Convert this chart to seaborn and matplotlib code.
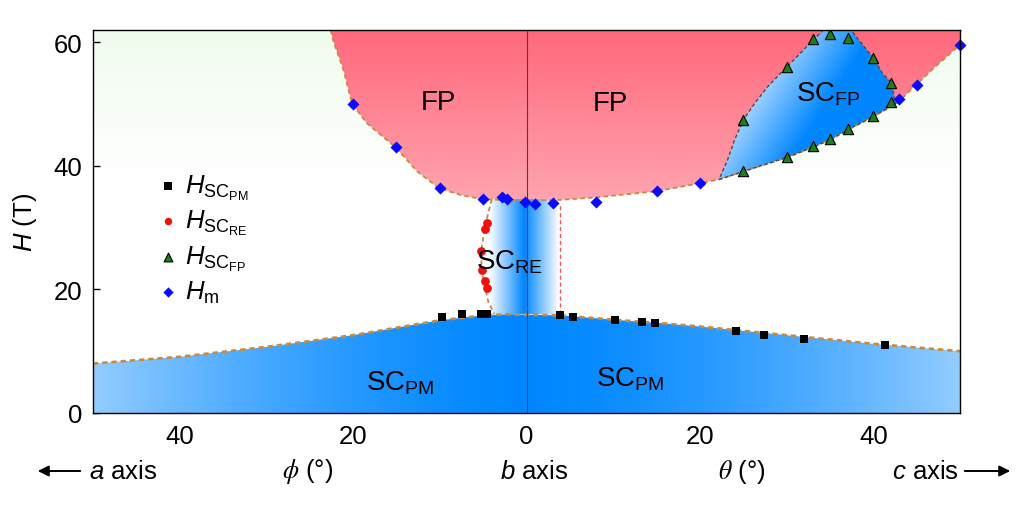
import numpy as np
import matplotlib
matplotlib.use("Agg")
import matplotlib.pyplot as plt
from matplotlib.patches import Polygon
from matplotlib.colors import to_rgb
import seaborn as sns

# angle axis: negative side = phi (b -> a axis), positive side = theta (b -> c axis)
pm_angle = [-9.7, -7.4, -5.2, -4.5, 3.9, 5.4, 10.2, 13.3, 14.8, 24.2, 27.4, 32.0, 41.4]
pm_field = [15.5, 16.0, 16.0, 16.0, 15.9, 15.6, 15.1, 14.8, 14.6, 13.3, 12.6, 12.0, 11.0]

re_angle = [-4.55, -4.75, -5.2, -5.1, -4.8, -4.55]
re_field = [30.7, 29.8, 26.3, 23.1, 21.3, 20.2]

fp_angle = [25.0, 30.0, 33.1, 35.0, 37.1, 40.0, 42.0, 42.0, 40.0, 37.1, 35.0, 33.1, 30.0, 25.0]
fp_field = [39.1, 41.5, 43.2, 44.4, 45.9, 48.1, 50.4, 53.4, 57.5, 60.7, 61.3, 60.5, 56.0, 47.4]

hm_angle = [-20.0, -15.0, -10.0, -5.0, -2.8, -2.2, -0.2, 1.0, 3.0, 8.0, 15.0, 20.0, 43.0, 45.0, 50.0]
hm_field = [50.0, 43.0, 36.4, 34.6, 35.0, 34.7, 34.2, 33.8, 34.0, 34.1, 35.9, 37.2, 50.8, 53.1, 59.6]

# phase boundaries
pm_line_x = [-50, -40, -30, -20, -10, -5, -2, 0, 4, 10, 15, 20, 30, 40, 50]
pm_line_y = [8.0, 9.1, 10.7, 12.6, 15.0, 15.8, 16.0, 15.9, 15.8, 15.1, 14.6, 14.0, 12.6, 11.2, 10.0]

fp_line_x = [-22.6, -22.3, -21.1, -20.1, -18.4, -15.1, -12.6, -10.1, -7.6, -5.1, -3.0, 0.0, 3.9,
             8.0, 15.0, 20.0, 22.2, 25.0, 30.1, 33.0, 35.1, 37.0, 40.0, 42.7, 45.0, 47.1, 50.0]
fp_line_y = [62.0, 60.3, 55.5, 50.0, 46.9, 43.0, 39.1, 36.4, 35.3, 34.6, 34.5, 34.4, 34.5,
             34.9, 35.9, 37.2, 37.8, 39.1, 41.4, 43.0, 44.3, 45.8, 48.0, 50.1, 53.2, 56.0, 59.6]

scfp_line_x = [22.2, 25.0, 30.1, 33.0, 35.1, 37.0, 40.0, 42.6, 42.5, 42.3, 42.0, 41.1, 40.0, 38.2,
               37.5, 36.8, 34.3, 34.0, 33.1, 31.7, 30.0, 27.8, 26.3, 25.0, 24.0, 23.2, 22.2]
scfp_line_y = [37.8, 39.1, 41.4, 43.0, 44.3, 45.8, 48.0, 50.1, 50.4, 52.0, 53.6, 54.9, 57.5, 60.6,
               61.9, 62.4, 62.4, 61.6, 60.5, 58.4, 56.0, 52.8, 50.1, 47.4, 44.2, 41.0, 37.8]

re_line_x = [-4.0, -4.4, -4.8, -5.2, -5.2, -4.8, -4.4, -3.7]
re_line_y = [34.6, 32.5, 30.0, 26.5, 23.0, 20.5, 18.0, 16.0]
re_right_x = 3.9

sns.set_style("ticks")
plt.rcParams["font.family"] = ["Liberation Sans", "DejaVu Sans"]
plt.rcParams["mathtext.fontset"] = "custom"
plt.rcParams["mathtext.rm"] = "Liberation Sans"
plt.rcParams["mathtext.it"] = "Liberation Sans:italic"
plt.rcParams["mathtext.bf"] = "Liberation Sans:bold"
for key in ["text.color", "axes.labelcolor", "xtick.color", "ytick.color", "axes.edgecolor"]:
    plt.rcParams[key] = "black"

fig = plt.figure(figsize=(10.16, 5.06), dpi=100)
ax = fig.add_axes([93 / 1016, 92 / 506, 867 / 1016, 383 / 506])

XLIM, YLIM = (-50, 50), (0, 62)
gx = np.linspace(*XLIM, 801)
gy = np.linspace(*YLIM, 497)
GX, GY = np.meshgrid(gx, gy)
WHITE = np.ones(3)
BLUE = np.array(to_rgb("#0087ff"))


def shade(f, c0, c1):
    f = np.clip(f, 0, 1)[..., None]
    return np.asarray(c0) * (1 - f) + np.asarray(c1) * f


def paint(rgb, verts, z):
    patch = Polygon(verts, closed=True, fc="none", ec="none", transform=ax.transData)
    ax.add_patch(patch)
    im = ax.imshow(rgb, extent=(*XLIM, *YLIM), origin="lower", aspect="auto",
                   zorder=z, interpolation="bilinear")
    im.set_clip_path(patch)


# background: faint green at the top
bg = shade((GY - 38) / 24, WHITE, to_rgb("#f0fcee"))
ax.imshow(bg, extent=(*XLIM, *YLIM), origin="lower", aspect="auto", zorder=0)

# SC_PM
f_pm = 1 - 0.58 * (np.abs(GX) / 50) ** 1.5
paint(shade(f_pm, WHITE, BLUE), list(zip(pm_line_x, pm_line_y)) + [(50, 0), (-50, 0)], 1)

# FP
fp_rgb = shade((GY - 34) / 28, to_rgb("#ffa5b0"), to_rgb("#ff687c"))
paint(fp_rgb, list(zip(fp_line_x, fp_line_y)) + [(50, 63), (-22.6, 63)], 1)

# SC_RE
f_re = 1 - np.abs(GX + 0.3) / 4.0
paint(shade(f_re, WHITE, BLUE),
      list(zip(re_line_x, re_line_y)) + [(re_right_x, 16.0), (re_right_x, 34.6)], 1)

# SC_FP
f_fp = 0.42 + 0.58 * (GX - 0.46 * GY - 3.5) / 8
paint(shade(f_fp, WHITE, BLUE), list(zip(scfp_line_x, scfp_line_y)), 2)

# boundaries
bcol = "#c98a40"
ax.plot(pm_line_x, pm_line_y, color=bcol, lw=1.9, dashes=(2, 1.5), zorder=3)
ax.plot(fp_line_x, fp_line_y, color=bcol, lw=1.3, dashes=(2.5, 1.8), zorder=3)
ax.plot(re_line_x, re_line_y, color=bcol, lw=1.3, dashes=(2.5, 1.8), zorder=3)
ax.plot(scfp_line_x, scfp_line_y, color="#4a4a4a", lw=1.0, dashes=(2.5, 1.8), zorder=3)
ax.plot([re_right_x, re_right_x], [16.0, 33.6], color="#f05a5a", lw=1.0, dashes=(3, 2), zorder=3)
ax.axvline(0, color="#444444", lw=0.8, zorder=3)

# data points
sns.scatterplot(x=pm_angle, y=pm_field, marker="s", color="black", s=40, linewidth=0,
                ax=ax, zorder=5, label=r"$H_{\mathrm{SC}_{\mathrm{PM}}}$")
sns.scatterplot(x=re_angle, y=re_field, marker="o", color="#f01010", s=40, linewidth=0,
                ax=ax, zorder=5, label=r"$H_{\mathrm{SC}_{\mathrm{RE}}}$")
sns.scatterplot(x=fp_angle, y=fp_field, marker="^", color="#1e7d1e", s=55, edgecolor="black",
                linewidth=0.8, ax=ax, zorder=5, label=r"$H_{\mathrm{SC}_{\mathrm{FP}}}$")
sns.scatterplot(x=hm_angle, y=hm_field, marker="D", color="#0a0aff", s=38, linewidth=0,
                ax=ax, zorder=5, label=r"$H_{\mathrm{m}}$", clip_on=False)

ax.legend(loc="upper left", bbox_to_anchor=(0.076, 0.627), frameon=False, fontsize=18.5,
          handlelength=0.7, handletextpad=0.3, labelspacing=0.24, borderpad=0,
          borderaxespad=0, markerscale=0.85)

# region labels
lab = dict(fontsize=20, ha="center", va="center", zorder=6)
ax.text(-10.1, 50.4, "FP", **lab)
ax.text(9.7, 50.2, "FP", **lab)
ax.text(34.8, 51.7, r"SC$_{\mathrm{FP}}$", **lab)
ax.text(-2.0, 24.5, r"SC$_{\mathrm{RE}}$", **lab)
ax.text(-14.6, 5.0, r"SC$_{\mathrm{PM}}$", **lab)
ax.text(12.0, 5.6, r"SC$_{\mathrm{PM}}$", **lab)

ax.set_xlim(*XLIM)
ax.set_ylim(*YLIM)
ax.set_xticks([-40, -20, 0, 20, 40])
ax.set_xticklabels(["40", "20", "0", "20", "40"])
ax.set_yticks([0, 20, 40, 60])
ax.tick_params(direction="in", length=5, width=1, labelsize=18.5, pad=8)
for sp in ax.spines.values():
    sp.set_color("black")
    sp.set_linewidth(1.0)
    sp.set_zorder(7)

ax.set_ylabel(r"$H$ (T)", fontsize=18.5)
ax.yaxis.set_label_coords(-0.062, 0.5)

# axis captions below
row_y = 34 / 506
cap = dict(fontsize=18.5, ha="center", va="center")
fig.text(123 / 1016, row_y, r"$a$ axis", **cap)
fig.text(308 / 1016, row_y, r"$\phi$ (°)", math_fontfamily="stix", **cap)
fig.text(534 / 1016, row_y, r"$b$ axis", **cap)
fig.text(742 / 1016, row_y, r"$\theta$ (°)", math_fontfamily="stix", **cap)
fig.text(925 / 1016, row_y, r"$c$ axis", **cap)
arrow = dict(arrowstyle="-|>", color="black", lw=1.4, mutation_scale=16)
ax.annotate("", xy=(35, 34), xytext=(83, 34), xycoords="figure pixels",
            textcoords="figure pixels", arrowprops=arrow)
ax.annotate("", xy=(1013, 34), xytext=(962, 34), xycoords="figure pixels",
            textcoords="figure pixels", arrowprops=arrow)

fig.savefig("out.png", dpi=100)
